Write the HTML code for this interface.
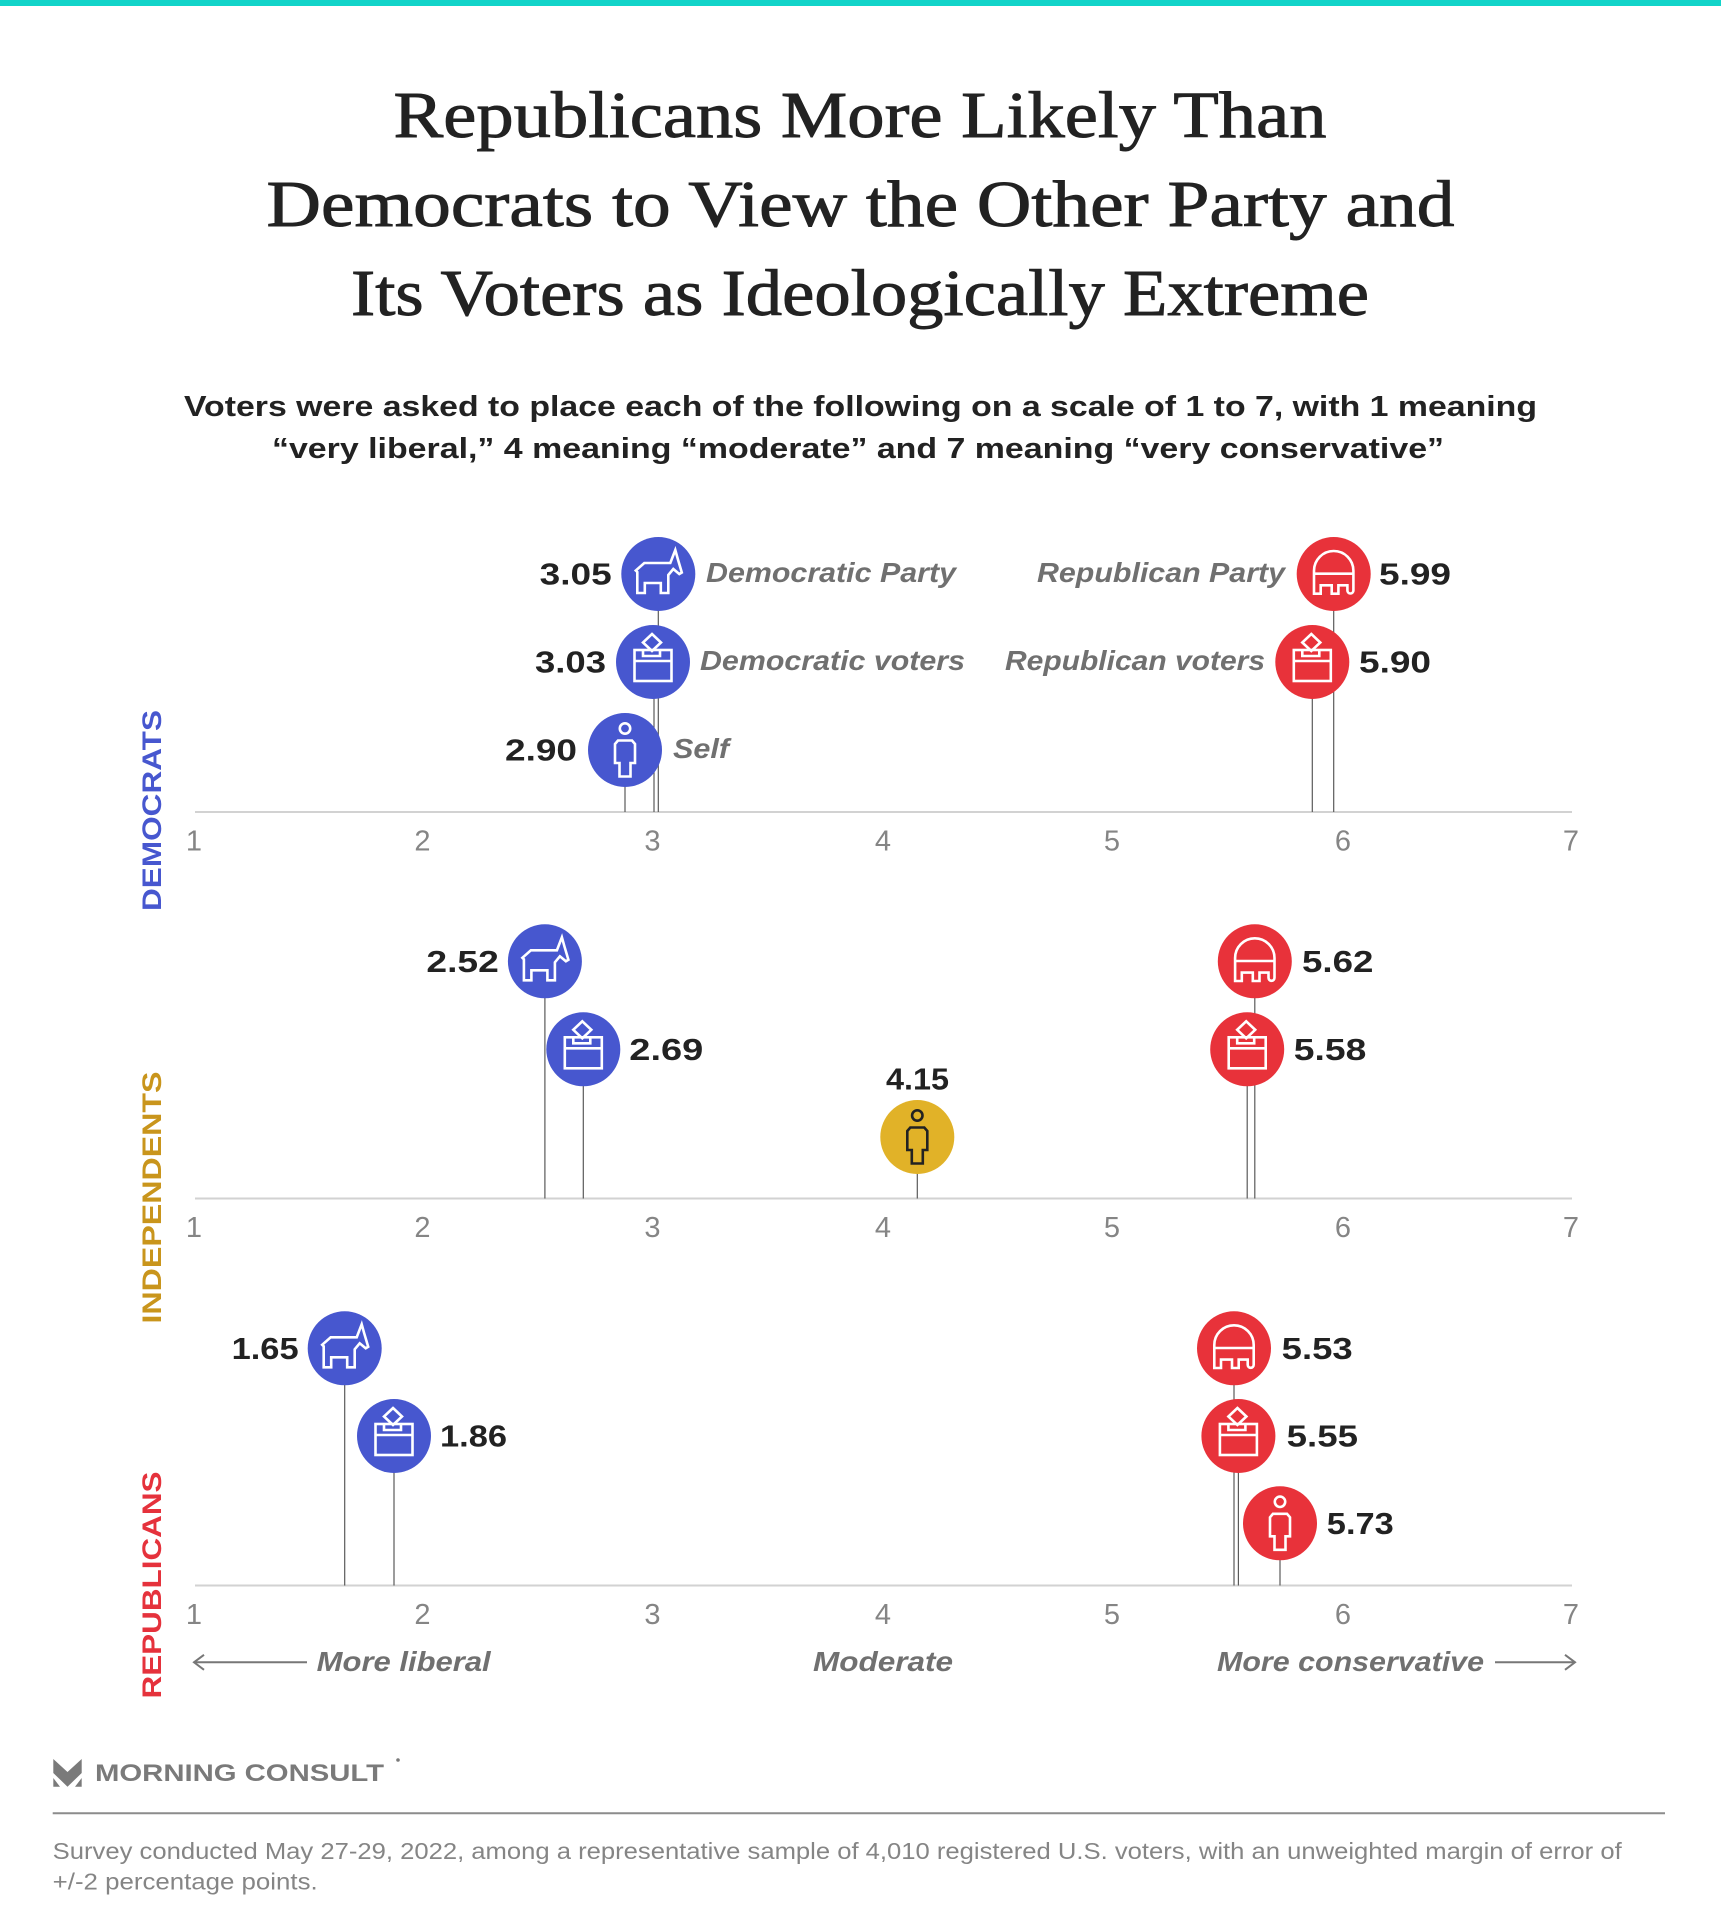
<!DOCTYPE html>
<html>
<head>
<meta charset="utf-8">
<style>
  html, body { margin:0; padding:0; background:#fff; }
  svg { display:block; }
  .val { font-family:"Liberation Sans", sans-serif; font-weight:bold; font-size:31px; fill:#222; }
  .cat { font-family:"Liberation Sans", sans-serif; font-weight:bold; font-style:italic; font-size:28px; fill:#707070; }
  .tick { font-family:"Liberation Sans", sans-serif; font-size:29px; fill:#858585; }
  .side { font-family:"Liberation Sans", sans-serif; font-weight:bold; font-size:27px; }
  .stem { stroke:#5a5a5a; stroke-width:1.2; }
  .axis { stroke:#d2d2d2; stroke-width:2; }
  .ic { fill:none; stroke:#fff; stroke-width:2.6; stroke-linejoin:miter; }
  .icd { fill:none; stroke:#222; stroke-width:2.6; stroke-linejoin:miter; }
</style>
</head>
<body>
<svg width="1721" height="1920" viewBox="0 0 1721 1920" xmlns="http://www.w3.org/2000/svg">
  <rect x="0" y="0" width="1721" height="1920" fill="#fff"/>
  <rect x="0" y="0" width="1721" height="6" fill="#12d4c9"/>

  <!-- Title -->
  <g font-family="'Liberation Serif', serif" font-size="66" fill="#222" stroke="#222" stroke-width="0.9" text-anchor="middle">
    <text x="860" y="137" textLength="933" lengthAdjust="spacingAndGlyphs">Republicans More Likely Than</text>
    <text x="860.5" y="226" textLength="1188" lengthAdjust="spacingAndGlyphs">Democrats to View the Other Party and</text>
    <text x="860" y="315" textLength="1018" lengthAdjust="spacingAndGlyphs">Its Voters as Ideologically Extreme</text>
  </g>

  <!-- Subtitle -->
  <g font-family="'Liberation Sans', sans-serif" font-weight="bold" font-size="29" fill="#222" text-anchor="middle">
    <text x="860.5" y="416" textLength="1353" lengthAdjust="spacingAndGlyphs">Voters were asked to place each of the following on a scale of 1 to 7, with 1 meaning</text>
    <text x="858" y="458" textLength="1172" lengthAdjust="spacingAndGlyphs">“very liberal,” 4 meaning “moderate” and 7 meaning “very conservative”</text>
  </g>

  <!-- Side labels -->
  <text class="side" fill="#4757cf" text-anchor="middle" transform="translate(161,810.5) rotate(-90)" textLength="201" lengthAdjust="spacingAndGlyphs">DEMOCRATS</text>
  <text class="side" fill="#c9951c" text-anchor="middle" transform="translate(161,1197.5) rotate(-90)" textLength="252" lengthAdjust="spacingAndGlyphs">INDEPENDENTS</text>
  <text class="side" fill="#e5323c" text-anchor="middle" transform="translate(161,1585) rotate(-90)" textLength="227" lengthAdjust="spacingAndGlyphs">REPUBLICANS</text>

  <!-- Axes -->
  <line class="axis" x1="195" y1="812" x2="1572" y2="812"/>
  <line class="axis" x1="195" y1="1198.5" x2="1572" y2="1198.5"/>
  <line class="axis" x1="195" y1="1585.5" x2="1572" y2="1585.5"/>

  <!-- Tick labels -->
  <g class="tick" text-anchor="middle">
    <text x="194" y="850.5">1</text><text x="422.5" y="850.5">2</text><text x="652.5" y="850.5">3</text><text x="883" y="850.5">4</text><text x="1112" y="850.5">5</text><text x="1343" y="850.5">6</text><text x="1571" y="850.5">7</text>
    <text x="194" y="1237">1</text><text x="422.5" y="1237">2</text><text x="652.5" y="1237">3</text><text x="883" y="1237">4</text><text x="1112" y="1237">5</text><text x="1343" y="1237">6</text><text x="1571" y="1237">7</text>
    <text x="194" y="1624">1</text><text x="422.5" y="1624">2</text><text x="652.5" y="1624">3</text><text x="883" y="1624">4</text><text x="1112" y="1624">5</text><text x="1343" y="1624">6</text><text x="1571" y="1624">7</text>
  </g>

  <!-- Stems -->
  <g class="stem">
    <line x1="658.3" y1="574" x2="658.3" y2="812"/>
    <line x1="654" y1="662" x2="654" y2="812"/>
    <line x1="625" y1="750" x2="625" y2="812"/>
    <line x1="1333.7" y1="574" x2="1333.7" y2="812"/>
    <line x1="1312.3" y1="662" x2="1312.3" y2="812"/>
    <line x1="544.9" y1="961" x2="544.9" y2="1198.5"/>
    <line x1="583.3" y1="1049" x2="583.3" y2="1198.5"/>
    <line x1="917.3" y1="1137" x2="917.3" y2="1198.5"/>
    <line x1="1254.8" y1="961" x2="1254.8" y2="1198.5"/>
    <line x1="1247.2" y1="1049" x2="1247.2" y2="1198.5"/>
    <line x1="344.7" y1="1348" x2="344.7" y2="1585.5"/>
    <line x1="394" y1="1436" x2="394" y2="1585.5"/>
    <line x1="1234" y1="1348" x2="1234" y2="1585.5"/>
    <line x1="1238.4" y1="1436" x2="1238.4" y2="1585.5"/>
    <line x1="1280" y1="1523.5" x2="1280" y2="1585.5"/>
  </g>

  <!-- ===== Democrats panel ===== -->
  <g transform="translate(658.3,574)">
    <circle r="37" fill="#4757cf"/>
    <path class="ic" d="M-21,19 V-2 L-22.5,-3.5 L-14,-11 H12 L17,-24 L19.5,-15 L23.5,-1.5 L21,0 L15,-5 L10,1 V19 H2.5 V9 H-13.5 V19 Z"/>
  </g>
  <g transform="translate(653,662)">
    <circle r="37" fill="#4757cf"/>
    <rect class="ic" x="-18.5" y="-12" width="37" height="31"/>
    <line class="ic" x1="-18.5" y1="-1" x2="18.5" y2="-1"/>
    <polyline class="ic" points="-10,-12 -10,-6 7,-6 7,-12"/>
    <polygon class="ic" fill="#4757cf" points="-1,-28 8,-19.5 -1,-11 -10,-19.5"/>
  </g>
  <g transform="translate(625,750)">
    <circle r="37" fill="#4757cf"/>
    <circle class="ic" cx="0" cy="-21.5" r="5.2"/>
    <path class="ic" d="M-5.5,26.5 V13 H-10 V-6 L-7,-9.5 H7 L10,-6 V13 H5.5 V26.5 Z"/>
  </g>
  <g transform="translate(1333.7,574)">
    <circle r="37" fill="#e8323a"/>
    <path class="ic" d="M-19.7,19.7 V-3.3 A19.7,19.7 0 0 1 19.7,-3.3 V16.5 A3,3 0 0 1 13.7,16.5 V11.3 H4.7 V19.7 H-2 V11.3 H-13 V19.7 Z M-19.7,-0.3 H19.7"/>
  </g>
  <g transform="translate(1312.3,662)">
    <circle r="37" fill="#e8323a"/>
    <rect class="ic" x="-18.5" y="-12" width="37" height="31"/>
    <line class="ic" x1="-18.5" y1="-1" x2="18.5" y2="-1"/>
    <polyline class="ic" points="-10,-12 -10,-6 7,-6 7,-12"/>
    <polygon class="ic" fill="#e8323a" points="-1,-28 8,-19.5 -1,-11 -10,-19.5"/>
  </g>

  <g class="val">
    <text x="611.7" y="584.5" text-anchor="end" textLength="72" lengthAdjust="spacingAndGlyphs">3.05</text>
    <text x="606" y="672.5" text-anchor="end" textLength="71" lengthAdjust="spacingAndGlyphs">3.03</text>
    <text x="577" y="760.5" text-anchor="end" textLength="72" lengthAdjust="spacingAndGlyphs">2.90</text>
    <text x="1379" y="584.5" textLength="72" lengthAdjust="spacingAndGlyphs">5.99</text>
    <text x="1359" y="672.5" textLength="72" lengthAdjust="spacingAndGlyphs">5.90</text>
  </g>
  <g class="cat">
    <text x="706" y="582" textLength="250" lengthAdjust="spacingAndGlyphs">Democratic Party</text>
    <text x="700" y="670" textLength="265" lengthAdjust="spacingAndGlyphs">Democratic voters</text>
    <text x="673" y="758" textLength="56" lengthAdjust="spacingAndGlyphs">Self</text>
    <text x="1037" y="582" textLength="248" lengthAdjust="spacingAndGlyphs">Republican Party</text>
    <text x="1005" y="670" textLength="260" lengthAdjust="spacingAndGlyphs">Republican voters</text>
  </g>

  <!-- ===== Independents panel ===== -->
  <g transform="translate(544.9,961.3)">
    <circle r="37" fill="#4757cf"/>
    <path class="ic" d="M-21,19 V-2 L-22.5,-3.5 L-14,-11 H12 L17,-24 L19.5,-15 L23.5,-1.5 L21,0 L15,-5 L10,1 V19 H2.5 V9 H-13.5 V19 Z"/>
  </g>
  <g transform="translate(583.3,1049.3)">
    <circle r="37" fill="#4757cf"/>
    <rect class="ic" x="-18.5" y="-12" width="37" height="31"/>
    <line class="ic" x1="-18.5" y1="-1" x2="18.5" y2="-1"/>
    <polyline class="ic" points="-10,-12 -10,-6 7,-6 7,-12"/>
    <polygon class="ic" fill="#4757cf" points="-1,-28 8,-19.5 -1,-11 -10,-19.5"/>
  </g>
  <g transform="translate(917.3,1137)">
    <circle r="37" fill="#e1b228"/>
    <circle class="icd" cx="0" cy="-21.5" r="5.2"/>
    <path class="icd" d="M-5.5,26.5 V13 H-10 V-6 L-7,-9.5 H7 L10,-6 V13 H5.5 V26.5 Z"/>
  </g>
  <g transform="translate(1254.8,961.3)">
    <circle r="37" fill="#e8323a"/>
    <path class="ic" d="M-19.7,19.7 V-3.3 A19.7,19.7 0 0 1 19.7,-3.3 V16.5 A3,3 0 0 1 13.7,16.5 V11.3 H4.7 V19.7 H-2 V11.3 H-13 V19.7 Z M-19.7,-0.3 H19.7"/>
  </g>
  <g transform="translate(1247.2,1049.3)">
    <circle r="37" fill="#e8323a"/>
    <rect class="ic" x="-18.5" y="-12" width="37" height="31"/>
    <line class="ic" x1="-18.5" y1="-1" x2="18.5" y2="-1"/>
    <polyline class="ic" points="-10,-12 -10,-6 7,-6 7,-12"/>
    <polygon class="ic" fill="#e8323a" points="-1,-28 8,-19.5 -1,-11 -10,-19.5"/>
  </g>
  <g class="val">
    <text x="498.8" y="971.8" text-anchor="end" textLength="72.4" lengthAdjust="spacingAndGlyphs">2.52</text>
    <text x="629.3" y="1059.8" textLength="74" lengthAdjust="spacingAndGlyphs">2.69</text>
    <text x="917.5" y="1089.3" text-anchor="middle" textLength="63" lengthAdjust="spacingAndGlyphs">4.15</text>
    <text x="1302" y="971.8" textLength="71.4" lengthAdjust="spacingAndGlyphs">5.62</text>
    <text x="1293.8" y="1059.8" textLength="72.5" lengthAdjust="spacingAndGlyphs">5.58</text>
  </g>

  <!-- ===== Republicans panel ===== -->
  <g transform="translate(344.7,1348.3)">
    <circle r="37" fill="#4757cf"/>
    <path class="ic" d="M-21,19 V-2 L-22.5,-3.5 L-14,-11 H12 L17,-24 L19.5,-15 L23.5,-1.5 L21,0 L15,-5 L10,1 V19 H2.5 V9 H-13.5 V19 Z"/>
  </g>
  <g transform="translate(394,1436)">
    <circle r="37" fill="#4757cf"/>
    <rect class="ic" x="-18.5" y="-12" width="37" height="31"/>
    <line class="ic" x1="-18.5" y1="-1" x2="18.5" y2="-1"/>
    <polyline class="ic" points="-10,-12 -10,-6 7,-6 7,-12"/>
    <polygon class="ic" fill="#4757cf" points="-1,-28 8,-19.5 -1,-11 -10,-19.5"/>
  </g>
  <g transform="translate(1234,1348.3)">
    <circle r="37" fill="#e8323a"/>
    <path class="ic" d="M-19.7,19.7 V-3.3 A19.7,19.7 0 0 1 19.7,-3.3 V16.5 A3,3 0 0 1 13.7,16.5 V11.3 H4.7 V19.7 H-2 V11.3 H-13 V19.7 Z M-19.7,-0.3 H19.7"/>
  </g>
  <g transform="translate(1238.4,1436)">
    <circle r="37" fill="#e8323a"/>
    <rect class="ic" x="-18.5" y="-12" width="37" height="31"/>
    <line class="ic" x1="-18.5" y1="-1" x2="18.5" y2="-1"/>
    <polyline class="ic" points="-10,-12 -10,-6 7,-6 7,-12"/>
    <polygon class="ic" fill="#e8323a" points="-1,-28 8,-19.5 -1,-11 -10,-19.5"/>
  </g>
  <g transform="translate(1280,1523.3)">
    <circle r="37" fill="#e8323a"/>
    <circle class="ic" cx="0" cy="-21.5" r="5.2"/>
    <path class="ic" d="M-5.5,26.5 V13 H-10 V-6 L-7,-9.5 H7 L10,-6 V13 H5.5 V26.5 Z"/>
  </g>
  <g class="val">
    <text x="298.6" y="1358.8" text-anchor="end" textLength="67" lengthAdjust="spacingAndGlyphs">1.65</text>
    <text x="440" y="1446.5" textLength="67" lengthAdjust="spacingAndGlyphs">1.86</text>
    <text x="1281.7" y="1358.8" textLength="71" lengthAdjust="spacingAndGlyphs">5.53</text>
    <text x="1286.7" y="1446.5" textLength="71.3" lengthAdjust="spacingAndGlyphs">5.55</text>
    <text x="1326.8" y="1533.8" textLength="67" lengthAdjust="spacingAndGlyphs">5.73</text>
  </g>

  <!-- Bottom direction labels -->
  <g class="cat">
    <text x="316.7" y="1671" textLength="174" lengthAdjust="spacingAndGlyphs">More liberal</text>
    <text x="813" y="1671" textLength="140" lengthAdjust="spacingAndGlyphs">Moderate</text>
    <text x="1217" y="1671" textLength="267" lengthAdjust="spacingAndGlyphs">More conservative</text>
  </g>
  <g stroke="#777" stroke-width="2" fill="none">
    <line x1="194" y1="1662.3" x2="307" y2="1662.3"/>
    <polyline points="204,1654.8 194,1662.3 204,1669.8"/>
    <line x1="1495" y1="1662.3" x2="1575" y2="1662.3"/>
    <polyline points="1565,1654.8 1575,1662.3 1565,1669.8"/>
  </g>

  <!-- Footer logo -->
  <g fill="#7a7a7a">
    <polygon points="53.3,1759 67.5,1772 81.7,1759 81.7,1773 67.5,1786.7 53.3,1773"/>
    <polygon points="53.3,1778 60,1786.7 53.3,1786.7"/>
    <polygon points="81.7,1778 75,1786.7 81.7,1786.7"/>
    <circle cx="398" cy="1760" r="1.8"/>
  </g>
  <text x="95" y="1781" font-family="'Liberation Sans', sans-serif" font-weight="bold" font-size="24" fill="#7a7a7a" textLength="289" lengthAdjust="spacingAndGlyphs">MORNING CONSULT</text>
  <line x1="52.7" y1="1813.3" x2="1665" y2="1813.3" stroke="#8c8c8c" stroke-width="2"/>

  <!-- Footnote -->
  <g font-family="'Liberation Sans', sans-serif" font-size="23" fill="#858585">
    <text x="52.7" y="1859" textLength="1569" lengthAdjust="spacingAndGlyphs">Survey conducted May 27-29, 2022, among a representative sample of 4,010 registered U.S. voters, with an unweighted margin of error of</text>
    <text x="52.7" y="1889.5" textLength="265" lengthAdjust="spacingAndGlyphs">+/-2 percentage points.</text>
  </g>
</svg>
</body>
</html>
